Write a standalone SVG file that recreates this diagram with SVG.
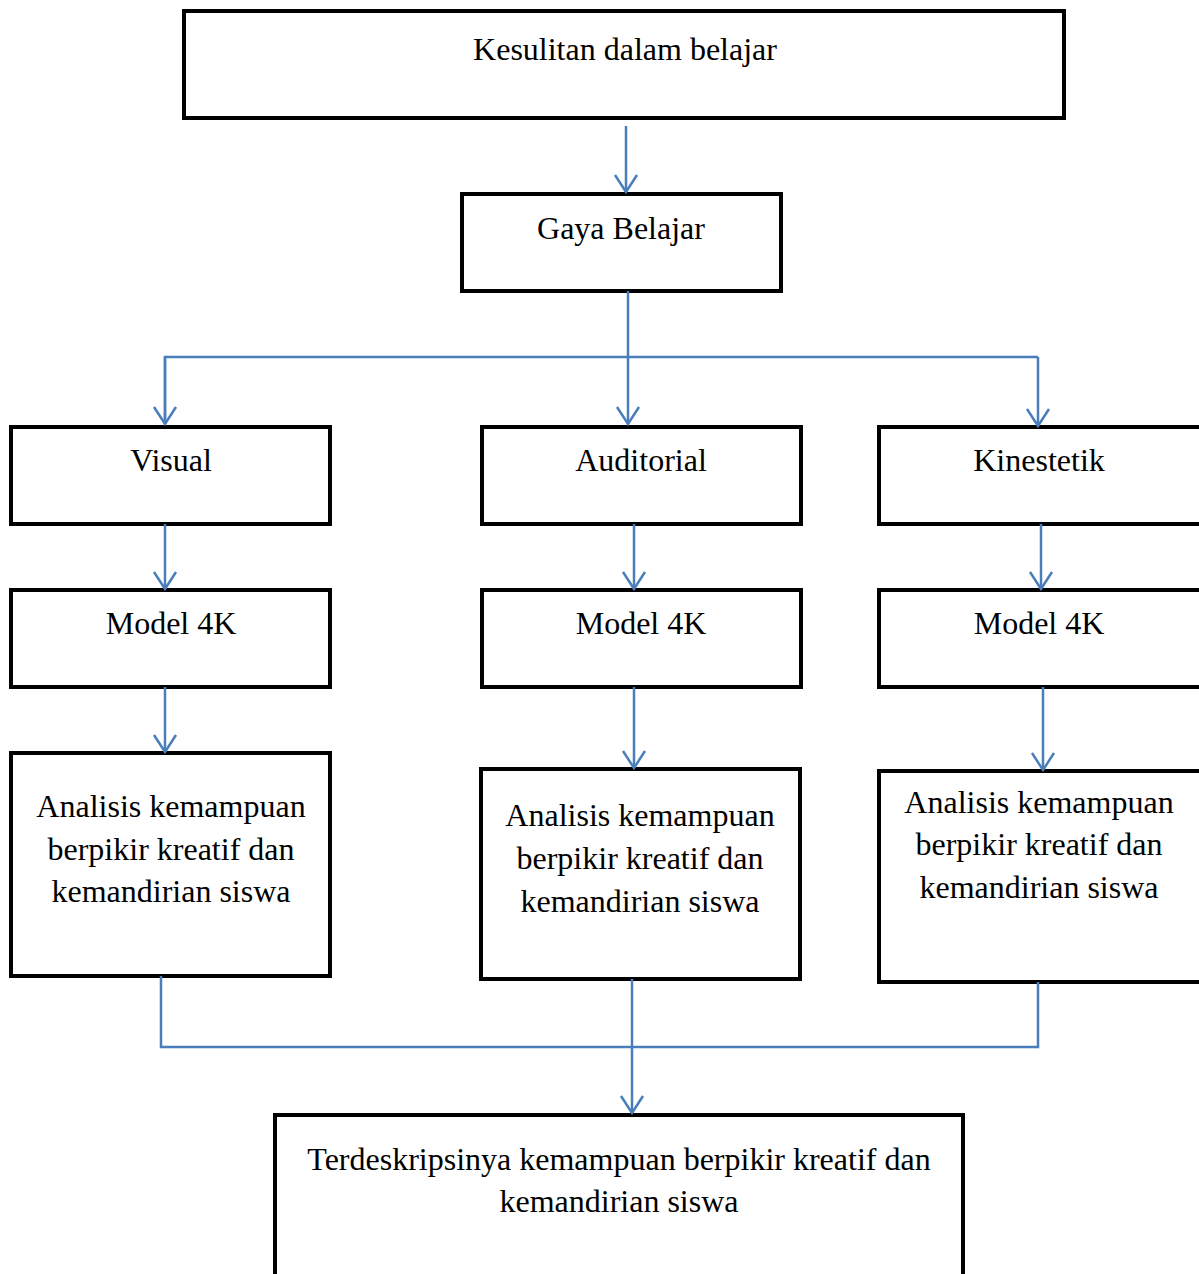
<svg xmlns="http://www.w3.org/2000/svg" width="1199" height="1274" viewBox="0 0 1199 1274">
<style>
.box{fill:#fff;stroke:#000;stroke-width:4}
.t{font-family:"Liberation Serif","Times New Roman",serif;font-size:32px;fill:#000;text-anchor:middle}
.c{fill:none;stroke:#4a7ebb;stroke-width:2.5}
</style>
<defs>
<marker id="ah" markerUnits="userSpaceOnUse" markerWidth="25" markerHeight="30" viewBox="-20 -15 25 30" refX="0" refY="0" orient="auto">
<path d="M-17,-11 L0,0 L-17,11" fill="none" stroke="#4a7ebb" stroke-width="2.5"/>
</marker>
</defs>
<rect width="1199" height="1274" fill="#fff"/>
<g id="n-kesulitan"><rect class="box" x="184" y="11" width="880" height="107"/><text class="t" x="625" y="60">Kesulitan dalam belajar</text></g>
<g id="n-gaya"><rect class="box" x="462" y="194" width="319" height="97"/><text class="t" x="621" y="239">Gaya Belajar</text></g>
<g id="n-visual"><rect class="box" x="11" y="427" width="319" height="97"/><text class="t" x="171" y="471">Visual</text></g>
<g id="n-auditorial"><rect class="box" x="482" y="427" width="319" height="97"/><text class="t" x="641" y="471">Auditorial</text></g>
<g id="n-kinestetik"><rect class="box" x="879" y="427" width="322" height="97"/><text class="t" x="1039" y="471">Kinestetik</text></g>
<g id="n-model1"><rect class="box" x="11" y="590" width="319" height="97"/><text class="t" x="171" y="634">Model 4K</text></g>
<g id="n-model2"><rect class="box" x="482" y="590" width="319" height="97"/><text class="t" x="641" y="634">Model 4K</text></g>
<g id="n-model3"><rect class="box" x="879" y="590" width="322" height="97"/><text class="t" x="1039" y="634">Model 4K</text></g>
<g id="n-analisis1"><rect class="box" x="11" y="753" width="319" height="223"/><text class="t" x="171" y="817">Analisis kemampuan</text><text class="t" x="171" y="860">berpikir kreatif dan</text><text class="t" x="171" y="902">kemandirian siswa</text></g>
<g id="n-analisis2"><rect class="box" x="481" y="769" width="319" height="210"/><text class="t" x="640" y="826">Analisis kemampuan</text><text class="t" x="640" y="869">berpikir kreatif dan</text><text class="t" x="640" y="912">kemandirian siswa</text></g>
<g id="n-analisis3"><rect class="box" x="879" y="771" width="322" height="211"/><text class="t" x="1039" y="813">Analisis kemampuan</text><text class="t" x="1039" y="855">berpikir kreatif dan</text><text class="t" x="1039" y="898">kemandirian siswa</text></g>
<g id="n-hasil"><rect class="box" x="275" y="1115" width="688" height="200"/><text class="t" x="619" y="1170">Terdeskripsinya kemampuan berpikir kreatif dan</text><text class="t" x="619" y="1212">kemandirian siswa</text></g>
<g id="connectors">
<line class="c" x1="626" y1="126" x2="626" y2="192" marker-end="url(#ah)"/>
<line class="c" x1="628" y1="291" x2="628" y2="424" marker-end="url(#ah)"/>
<polyline class="c" points="165,424 165,357 1038,357"/>
<line class="c" x1="165" y1="357" x2="165" y2="424" marker-end="url(#ah)"/>
<line class="c" x1="1038" y1="357" x2="1038" y2="426" marker-end="url(#ah)"/>
<line class="c" x1="165" y1="524" x2="165" y2="589" marker-end="url(#ah)"/>
<line class="c" x1="634" y1="524" x2="634" y2="589" marker-end="url(#ah)"/>
<line class="c" x1="1041" y1="524" x2="1041" y2="589" marker-end="url(#ah)"/>
<line class="c" x1="165" y1="687" x2="165" y2="752" marker-end="url(#ah)"/>
<line class="c" x1="634" y1="687" x2="634" y2="768" marker-end="url(#ah)"/>
<line class="c" x1="1043" y1="687" x2="1043" y2="770" marker-end="url(#ah)"/>
<polyline class="c" points="161,976 161,1047 1038,1047 1038,982"/>
<line class="c" x1="632" y1="979" x2="632" y2="1113" marker-end="url(#ah)"/>
</g>
</svg>
